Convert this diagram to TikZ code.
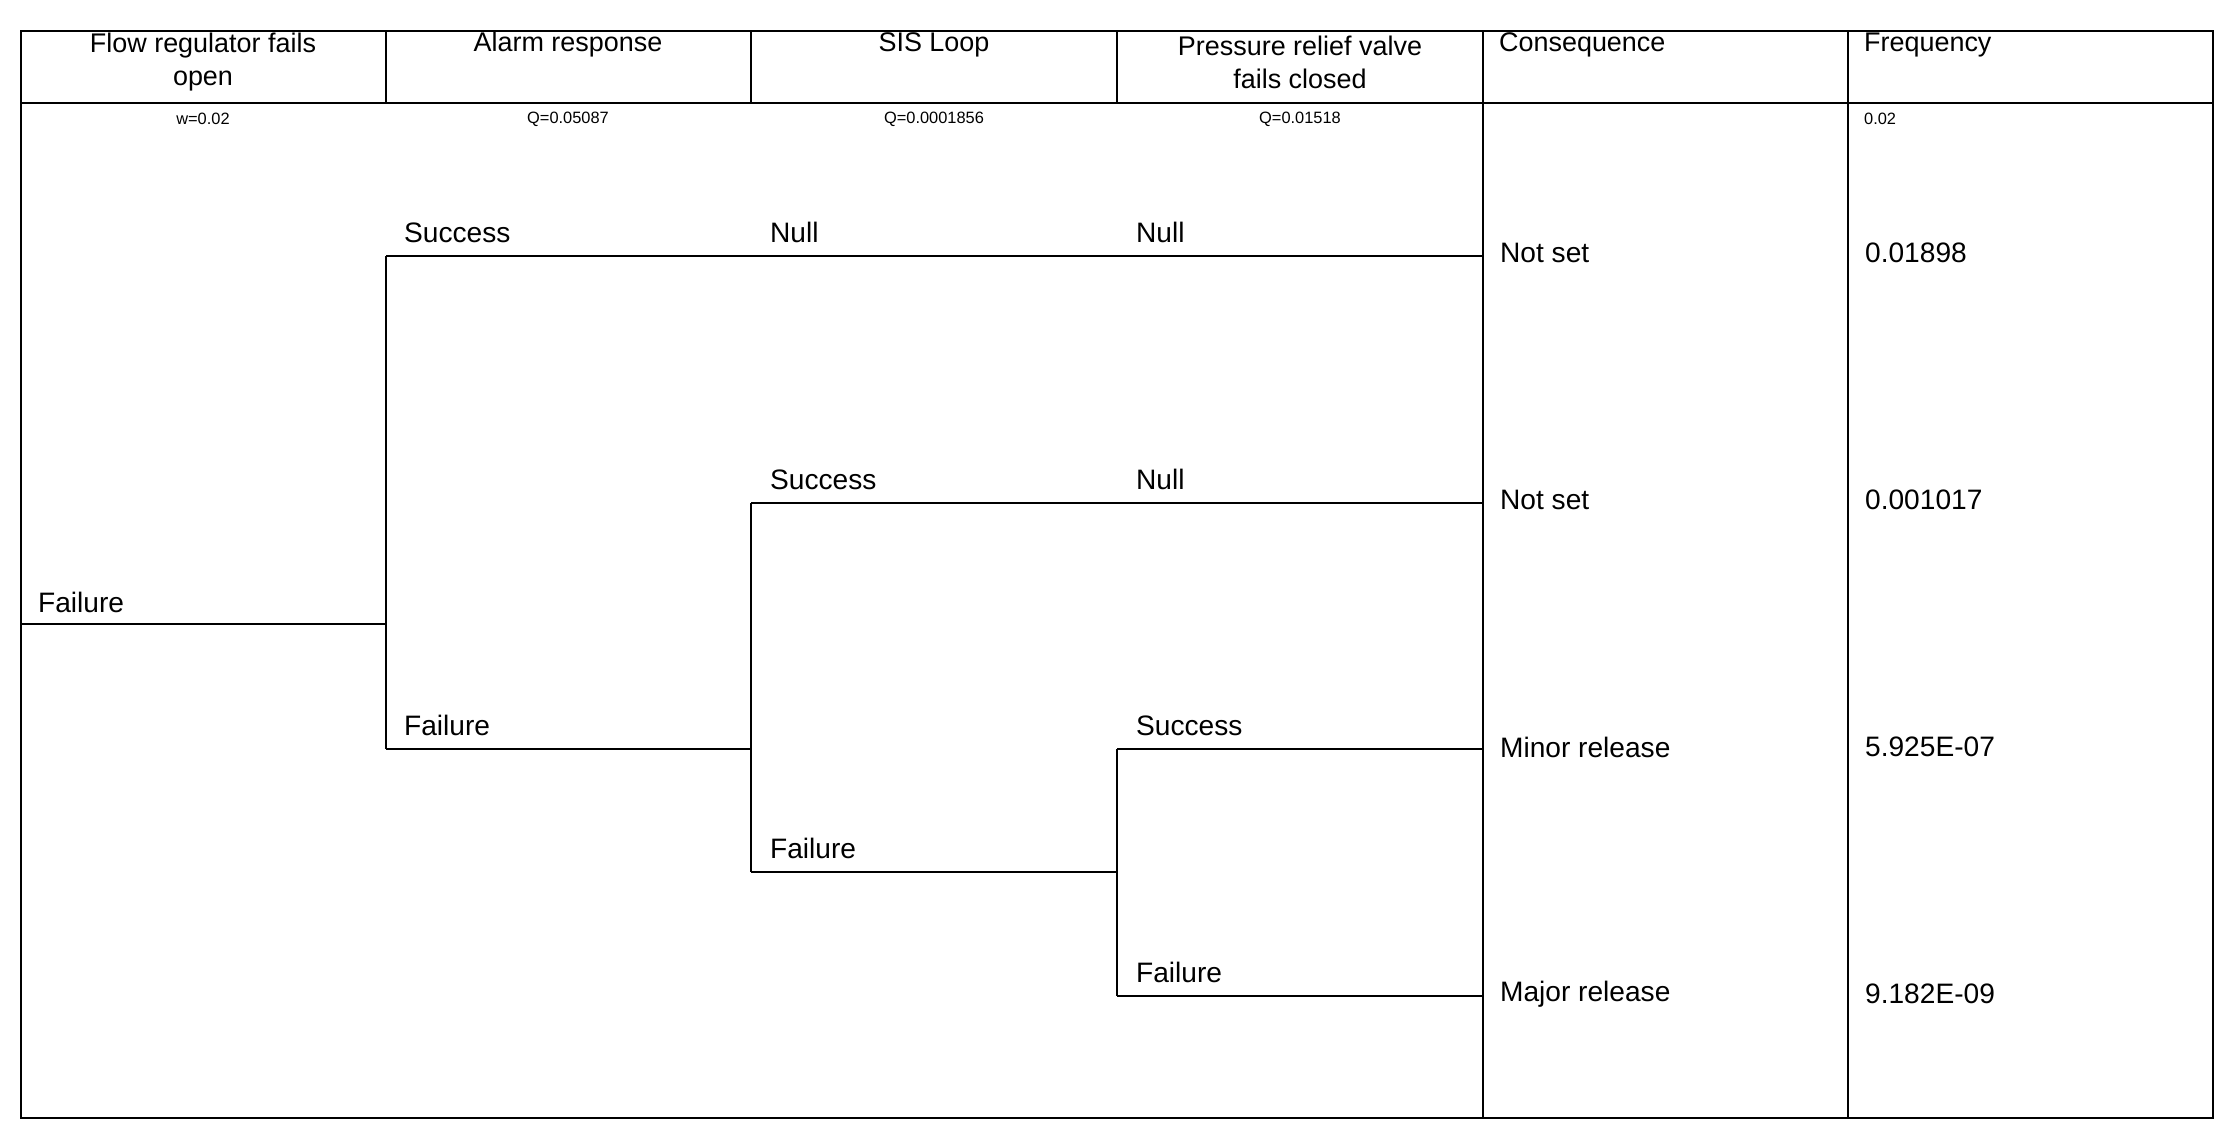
\documentclass[tikz,border=0pt]{standalone}
\usepackage{fontspec}
\setmainfont{Liberation Sans}
\begin{document}
\begin{tikzpicture}[x=0.03cm,y=-0.03cm,
  ln/.style={line width=1.4pt},
  hd/.style={font=\fontsize{23}{28}\selectfont,align=center},
  sm/.style={font=\fontsize{14}{16}\selectfont},
  lb/.style={font=\fontsize{24}{27}\selectfont,anchor=base west},
  vl/.style={font=\fontsize{24}{27}\selectfont,anchor=west}]
\useasboundingbox (0,0) rectangle (2234,1140);
\draw[ln] (21,31) rectangle (2213,1118);
\draw[ln] (21,103) -- (2213,103);
\foreach \x in {386,751,1117}{\draw[ln] (\x,31) -- (\x,103);}
\foreach \x in {1483,1848}{\draw[ln] (\x,31) -- (\x,1118);}
% headers
\node[hd] (h1) at (203,62) {Flow regulator fails\\open};
\node[hd] (h2) at (568,45) {Alarm response};
\node[hd] (h3) at (934,45) {SIS Loop};
\node[hd] (h4) at (1300,62) {Pressure relief valve\\fails closed};
\node[hd,anchor=west] (h5) at (1495,45) {Consequence};
\node[hd,anchor=west] (h6) at (1860,45) {Frequency};
\node[sm] (q1) at (203,119) {w=0.02};
\node[sm] (q2) at (568,119) {Q=0.05087};
\node[sm] (q3) at (934,119) {Q=0.0001856};
\node[sm,anchor=west] (q6) at (1860,119) {0.02};
\node[sm] (q4) at (1300,119) {Q=0.01518};
% tree
\coordinate (a0) at (21,624); \coordinate (a1) at (386,624);
\coordinate (b1) at (386,256); \coordinate (b2) at (386,749);
\coordinate (e1) at (1483,256);
\coordinate (c1) at (751,749); \coordinate (c2) at (751,503); \coordinate (c3) at (751,872);
\coordinate (e2) at (1483,503);
\coordinate (d1) at (1117,872); \coordinate (d2) at (1117,749); \coordinate (d3) at (1117,996);
\coordinate (e3) at (1483,749); \coordinate (e4) at (1483,996);
\draw[ln] (a0) -- (a1);
\draw[ln] (b1) -- (b2);
\draw[ln] (b1) -- (e1);
\draw[ln] (b2) -- (c1);
\draw[ln] (c2) -- (c3);
\draw[ln] (c2) -- (e2);
\draw[ln] (c3) -- (d1);
\draw[ln] (d2) -- (d3);
\draw[ln] (d2) -- (e3);
\draw[ln] (d3) -- (e4);
% branch labels
\node[lb] (l1) at (34,612) {Failure};
\node[lb] (l2) at (400,242) {Success};
\node[lb] (l3) at (766,242) {Null};
\node[lb] (l4) at (1132,242) {Null};
\node[lb] (l5) at (400,735) {Failure};
\node[lb] (l6) at (766,489) {Success};
\node[lb] (l7) at (1132,489) {Null};
\node[lb] (l8) at (766,858) {Failure};
\node[lb] (l9) at (1132,735) {Success};
\node[lb] (l10) at (1132,982) {Failure};
% outcomes
\node[vl] (o1) at (1496,253) {Not set};
\node[vl] (o2) at (1496,500) {Not set};
\node[vl] (o3) at (1496,747) {Minor release};
\node[vl] (o4) at (1496,994) {Major release};
\node[vl] (f1) at (1861,253) {0.01898};
\node[vl] (f2) at (1861,500) {0.001017};
\node[vl] (f3) at (1861,747) {5.925E-07};
\node[vl] (f4) at (1861,994) {9.182E-09};
\end{tikzpicture}
\end{document}
